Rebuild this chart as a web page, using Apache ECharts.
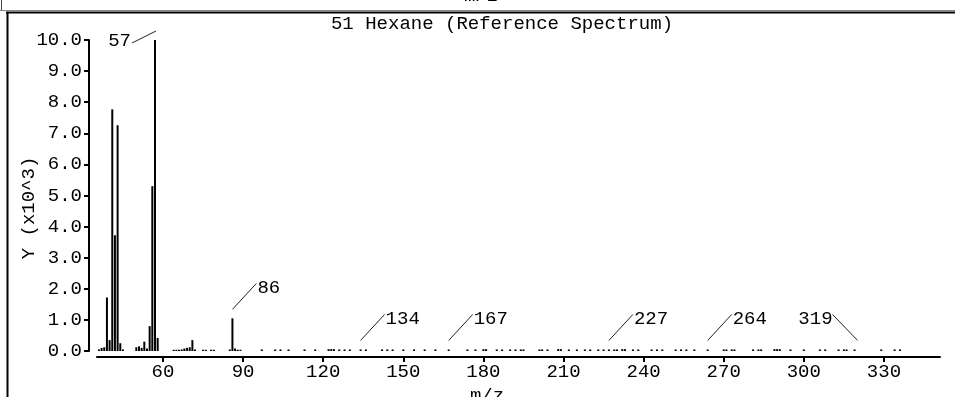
<!DOCTYPE html>
<html><head><meta charset="utf-8">
<script src="https://cdn.jsdelivr.net/npm/echarts@6/dist/echarts.min.js"></script>
<style>html,body{margin:0;padding:0;background:#fff}#c{width:955px;height:397px}</style>
</head><body><div id="c"></div>
<script>
const chartTitle = '51 Hexane (Reference Spectrum)';
const xName = 'm/z';
const yName = 'Y (x10^3)';
const xTicks = [60, 90, 120, 150, 180, 210, 240, 270, 300, 330];

const peakMz = [
  36,37,38,39,40,41,42,43,44,45,
  50,51,52,53,54,55,56,57,58,
  64,65,66,67,68,69,70,71,72,75,76,78,79,
  85,86,87,88,89,
  97,102,104,107,113,117,122,123,124,126,128,130,134,136,
  142,144,146,150,154,158,162,167,
  174,177,180,181,185,187,190,192,194,195,
  201,202,204,208,209,212,215,218,220,223,225,
  227,229,230,232,233,236,238,243,245,247,252,254,256,259,
  264,270,271,273,274,281,283,284,289,290,291,
  295,300,306,308,313,315,316,319,329,334,336
];
const peakVal = [
  0.05,0.10,0.12,1.72,0.35,7.77,3.72,7.26,0.25,0.05,
  0.12,0.15,0.10,0.30,0.08,0.80,5.30,10.0,0.42,
  0.04,0.04,0.04,0.05,0.08,0.10,0.12,0.35,0.05,0.04,0.04,0.04,0.04,
  0.05,1.05,0.08,0.04,0.04,
  0.05,0.05,0.05,0.05,0.05,0.05,0.06,0.06,0.06,0.05,0.05,0.05,0.05,0.05,
  0.05,0.05,0.05,0.05,0.05,0.05,0.05,0.05,
  0.05,0.05,0.06,0.06,0.05,0.05,0.05,0.05,0.05,0.05,
  0.05,0.05,0.05,0.06,0.06,0.05,0.05,0.05,0.05,0.05,0.05,
  0.05,0.05,0.05,0.06,0.06,0.05,0.05,0.05,0.05,0.05,0.05,0.05,0.05,0.05,
  0.05,0.05,0.05,0.05,0.05,0.05,0.05,0.05,0.06,0.06,0.06,
  0.05,0.05,0.05,0.05,0.05,0.05,0.05,0.05,0.05,0.05,0.05
];

const annMz   = [57, 86, 134, 167, 227, 264, 319];
const annVal  = [10.0, 1.05, 0.05, 0.05, 0.05, 0.05, 0.05];
const annText = ['57', '86', '134', '167', '227', '264', '319'];
const annSide = ['downLeft', 'upRight', 'upRight', 'upRight', 'upRight', 'upRight', 'upLeft'];

const FONT = '"Liberation Mono", "DejaVu Sans Mono", monospace';
const FS = 19;
const chart = echarts.init(document.getElementById('c'), null, {renderer: 'canvas'});

chart.setOption({
  animation: false,
  backgroundColor: '#fff',
  grid: {left: 97, right: 15, top: 40, bottom: 46, containLabel: false},
  xAxis: {
    type: 'value', min: 35.28, max: 351.0, offset: 6,
    axisLine: {show: true, onZero: false, lineStyle: {color: '#000', width: 2}},
    axisTick: {show: true, customValues: xTicks, length: 5, lineStyle: {color: '#000', width: 2}},
    axisLabel: {customValues: xTicks, color: '#000', fontFamily: FONT, fontSize: FS, margin: 5},
    splitLine: {show: false}
  },
  yAxis: {
    type: 'value', min: 0, max: 10, interval: 1, offset: 8,
    axisLine: {show: true, lineStyle: {color: '#000', width: 2}},
    axisTick: {show: true, length: 5, lineStyle: {color: '#000', width: 2}},
    axisLabel: {color: '#000', fontFamily: FONT, fontSize: FS, margin: 7,
      formatter: v => v.toFixed(1)},
    splitLine: {show: false}
  },
  series: [
    {
      type: 'bar',
      data: peakMz.map((m, i) => [m, peakVal[i]]),
      barWidth: 2,
      itemStyle: {color: '#000'},
      silent: true
    },
    {
      type: 'custom',
      clip: false,
      silent: true,
      data: annMz.map((m, i) => [m, annVal[i]]),
      renderItem: function (params, api) {
        const i = params.dataIndex;
        const p = api.coord([api.value(0), api.value(1)]);
        const side = annSide[i];
        let x1, y1, x2, y2, tx, ty, align;
        if (side === 'upRight') {
          x1 = p[0]; y1 = p[1] - 9; x2 = x1 + 24; y2 = y1 - 26; tx = x2 + 1; ty = y2 + 5; align = 'left';
        } else if (side === 'upLeft') {
          x1 = p[0] + 3; y1 = p[1] - 9; x2 = x1 - 25; y2 = y1 - 26; tx = x2; ty = y2 + 5; align = 'right';
        } else {
          x1 = p[0] + 1; y1 = p[1] - 9; x2 = x1 - 24; y2 = y1 + 12; tx = x2 - 1; ty = y2 - 2; align = 'right';
        }
        return {
          type: 'group',
          children: [
            {type: 'line', shape: {x1, y1, x2, y2}, style: {stroke: '#222', lineWidth: 1}},
            {type: 'text', style: {text: annText[i], x: tx, y: ty, align: align, verticalAlign: 'middle',
              font: FS + 'px ' + FONT, fill: '#000'}}
          ]
        };
      }
    }
  ],
  graphic: [
    {type: 'line', shape: {x1: 1.5, y1: 0, x2: 1.5, y2: 10}, style: {stroke: '#444', lineWidth: 1}},
    {type: 'line', shape: {x1: 0, y1: 10.5, x2: 955, y2: 10.5}, style: {stroke: '#888', lineWidth: 1}},
    {type: 'line', shape: {x1: 6, y1: 12.5, x2: 955, y2: 12.5}, style: {stroke: '#000', lineWidth: 2}},
    {type: 'line', shape: {x1: 7.5, y1: 12, x2: 7.5, y2: 397}, style: {stroke: '#000', lineWidth: 2}},
    {type: 'text', style: {text: xName, x: 481, y: 5, align: 'center', verticalAlign: 'bottom',
      font: FS + 'px ' + FONT, fill: '#000'}},
    {type: 'text', style: {text: chartTitle, x: 502, y: 24, align: 'center', verticalAlign: 'middle',
      font: FS + 'px ' + FONT, fill: '#000'}},
    {type: 'text', x: 29, y: 208, rotation: Math.PI / 2,
      style: {text: yName, x: 0, y: 0, align: 'center', verticalAlign: 'middle',
      font: FS + 'px ' + FONT, fill: '#000'}},
    {type: 'text', style: {text: xName, x: 487, y: 386, align: 'center', verticalAlign: 'top',
      font: FS + 'px ' + FONT, fill: '#000'}}
  ]
});
</script>
</body></html>
